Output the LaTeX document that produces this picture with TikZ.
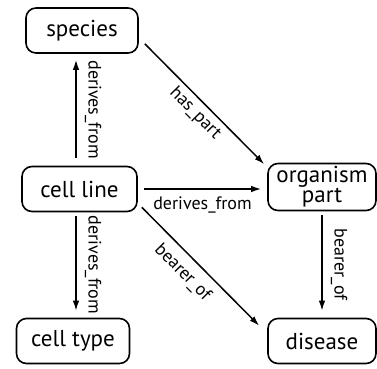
\documentclass[tikz,border=0pt]{standalone}
\usepackage{fontspec}
\setmainfont{PT Sans}
\usetikzlibrary{
    arrows.meta,
    calc,
    positioning
}

\begin{document}
\begin{tikzpicture}[
    x=1pt, y=-1pt,
    term/.style={
      draw,
      rounded corners=10pt,
      line width=1.6pt,
      minimum height=45pt,
      inner sep=0pt,
      align=center,
      font=\fontsize{23}{19}\selectfont
    },
    rel/.style={
      line width=1.5pt,
      -{Latex[length=10pt,width=6.5pt]}
    },
    rellabel/.style={
      inner sep=0pt,
      font=\fontsize{18}{18}\selectfont
    }
  ]

  \useasboundingbox (0,0) rectangle (377,368);

  % terms {{{
  \node[term, minimum width=112pt] (species)  at (82,30.5)  {species};
  \node[term, minimum width=115pt] (cellline) at (79.5,189) {cell line};
  \node[term, minimum width=113pt] (celltype) at (73,341)   {cell type};
  \node[term, minimum width=108pt, minimum height=47pt]
    (orgpart) at (322,187) {organism\\part};
  \node[term, minimum width=108pt] (disease)  at (322,341)  {disease};
  % }}}

  % relations {{{
  \draw[rel, shorten <=8pt, shorten >=6pt]
    ($(cellline.north)+(-3.5pt,0)$) -- ($(cellline.north |- species.south)+(-3.5pt,0)$)
    node[rellabel, midway, rotate=-90, anchor=south, outer sep=9pt] {derives\_from};

  \draw[rel, shorten <=4pt, shorten >=7pt]
    ($(cellline.south)+(-3.5pt,0)$) -- ($(cellline.south |- celltype.north)+(-3.5pt,0)$)
    node[rellabel, midway, rotate=-90, anchor=south, outer sep=9pt] {derives\_from};

  \draw[rel]
    ([shift={(6pt,10pt)}]species.south east) -- ([shift={(-3pt,-1.5pt)}]orgpart.north west)
    node[rellabel, midway, sloped, anchor=north, outer sep=5pt] {has\_part};

  \draw[rel]
    ([xshift=6pt]cellline.east) -- ([xshift=-6pt]cellline.east -| orgpart.west)
    node[rellabel, midway, anchor=north, outer sep=8pt] {derives\_from};

  \draw[rel]
    ([shift={(4pt,5pt)}]cellline.south east) -- ([shift={(-8pt,-8pt)}]disease.north west)
    node[rellabel, pos=0.45, sloped, anchor=north, outer sep=9pt] {bearer\_of};

  \draw[rel, shorten <=4pt, shorten >=7pt]
    (orgpart.south) -- (disease.north)
    node[rellabel, midway, rotate=-90, anchor=south, outer sep=9pt] {bearer\_of};
  % }}}

\end{tikzpicture}
\end{document}
